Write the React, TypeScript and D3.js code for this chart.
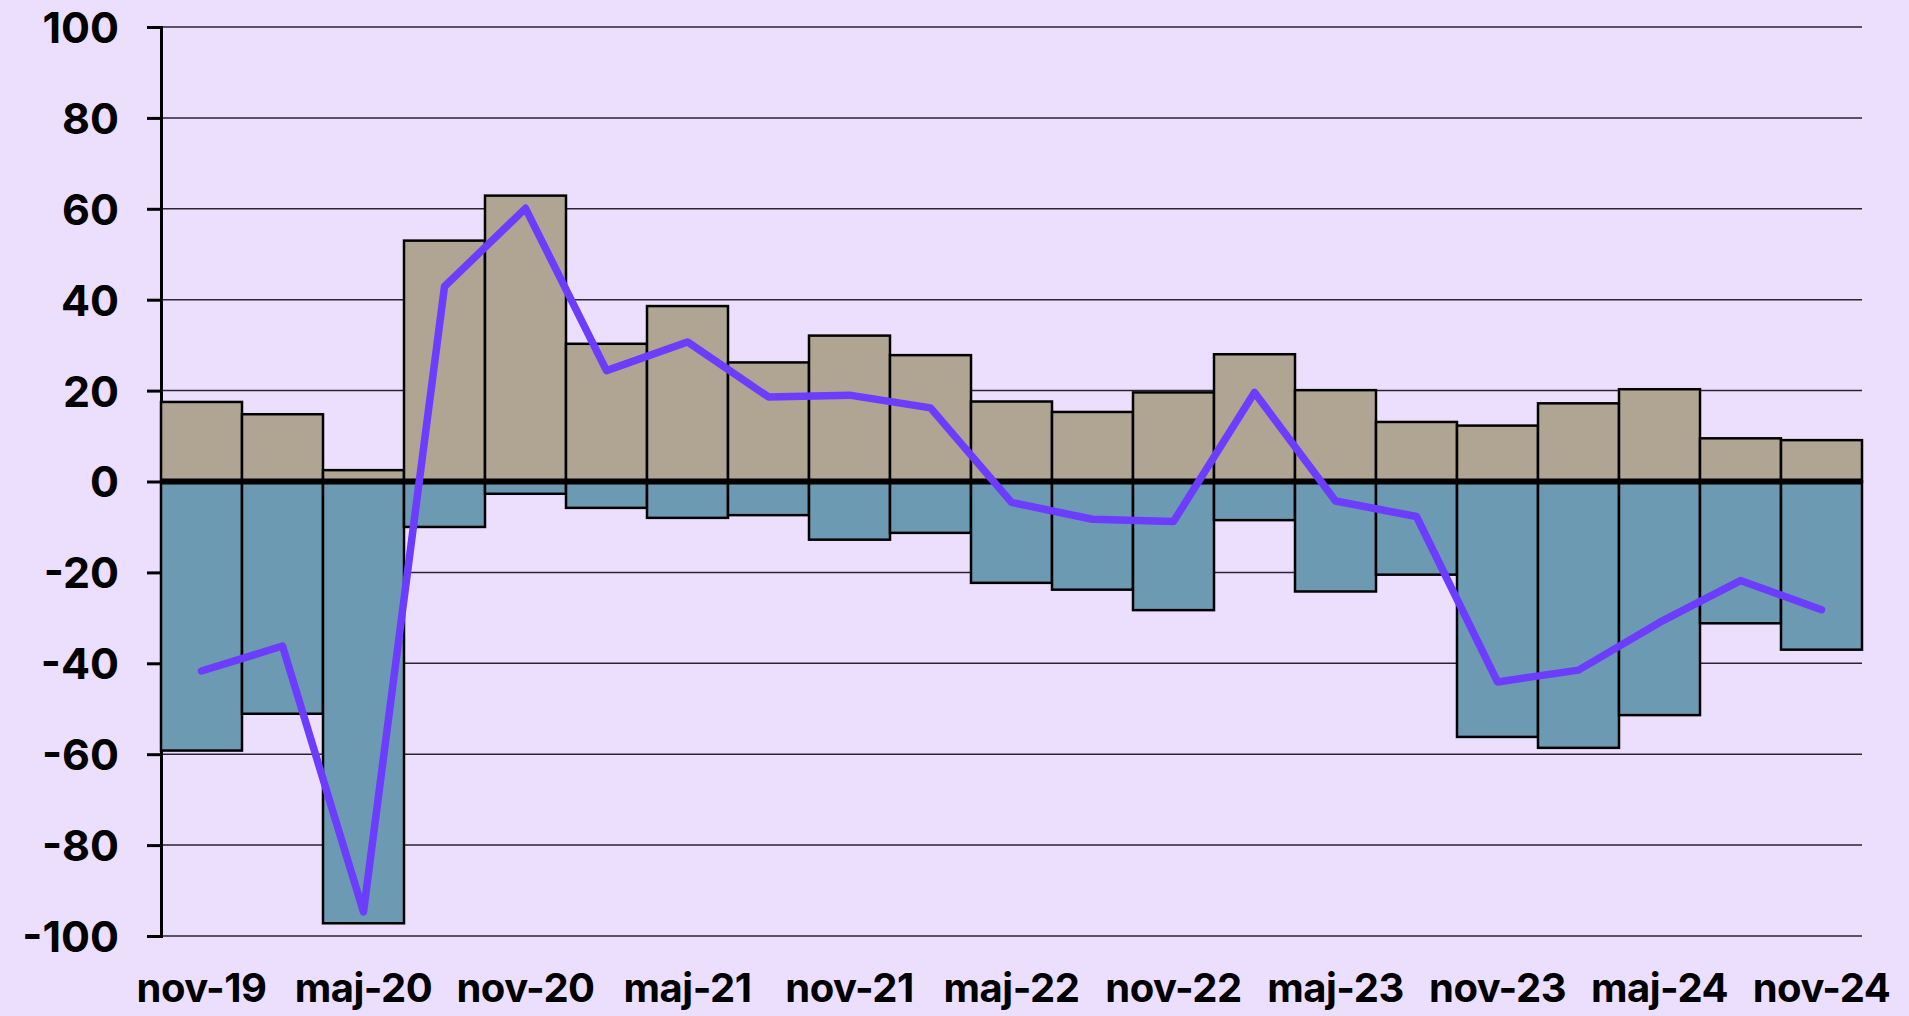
import React, { useRef, useEffect } from "react";
import * as d3 from "d3";

// quarters, nov-19 .. nov-24
const periods = [
  "nov-19", "feb-20", "maj-20", "aug-20", "nov-20", "feb-21", "maj-21",
  "aug-21", "nov-21", "feb-22", "maj-22", "aug-22", "nov-22", "feb-23",
  "maj-23", "aug-23", "nov-23", "feb-24", "maj-24", "aug-24", "nov-24",
];

// positive share (bars above zero)
const upValues = [
  17.5, 14.8, 2.5, 53.0, 62.9, 30.3, 38.6, 26.2, 32.1, 27.8, 17.6,
  15.3, 19.6, 28.0, 20.1, 13.1, 12.3, 17.2, 20.3, 9.5, 9.1,
];

// negative share (bars below zero)
const downValues = [
  -59.2, -51.1, -97.2, -10.0, -2.7, -5.8, -8.0, -7.4, -12.8, -11.3, -22.3,
  -23.8, -28.3, -8.5, -24.2, -20.5, -56.2, -58.6, -51.4, -31.2, -37.0,
];

// net balance (line)
const netValues = [
  -41.7, -36.2, -94.7, 42.9, 60.1, 24.4, 30.7, 18.6, 19.0, 16.2, -4.6,
  -8.3, -8.8, 19.6, -4.3, -7.7, -44.1, -41.5, -31.0, -21.8, -28.2,
];

const yTicks = [100, 80, 60, 40, 20, 0, -20, -40, -60, -80, -100];
const xLabels = [
  "nov-19", "maj-20", "nov-20", "maj-21", "nov-21", "maj-22",
  "nov-22", "maj-23", "nov-23", "maj-24", "nov-24",
];

function App() {
  const ref = useRef<HTMLDivElement>(null);

  useEffect(() => {
    const W = 1909, H = 1016;
    const margin = { top: 27, right: 47, bottom: 80, left: 161 };
    const width = W - margin.left - margin.right;
    const height = H - margin.top - margin.bottom;
    const font = "Inter, 'DejaVu Sans', sans-serif";

    d3.select(ref.current).selectAll("*").remove();

    const root = d3
      .select(ref.current)
      .append("svg")
      .attr("width", W)
      .attr("height", H)
      .style("display", "block");

    root.append("rect").attr("width", W).attr("height", H).attr("fill", "#ecdffe");

    const svg = root
      .append("g")
      .attr("transform", "translate(" + margin.left + "," + margin.top + ")");

    const x = d3.scaleBand().domain(periods).range([0, width]).padding(0);
    const y = d3.scaleLinear().domain([-100, 100]).range([height, 0]);

    // grid lines
    svg
      .append("g")
      .selectAll("line")
      .data(yTicks)
      .join("line")
      .attr("x1", 0)
      .attr("x2", width)
      .attr("y1", (d) => y(d))
      .attr("y2", (d) => y(d))
      .attr("stroke", "#2a2530")
      .attr("stroke-width", 1.5);

    // y axis (plain hyphen for negatives, as in the source)
    const yAxis = svg
      .append("g")
      .call(
        d3
          .axisLeft(y)
          .tickValues(yTicks)
          .tickSize(14)
          .tickPadding(28)
          .tickFormat((d) => String(d))
      );
    yAxis.select(".domain").attr("stroke", "#000").attr("stroke-width", 3);
    yAxis.selectAll(".tick line").attr("stroke", "#000").attr("stroke-width", 3);
    yAxis
      .selectAll(".tick text")
      .attr("fill", "#000")
      .style("font-family", font)
      .style("font-size", "43px")
      .style("font-weight", "700")
      .attr("dy", "0.36em");

    // bars above zero
    svg
      .append("g")
      .selectAll("rect")
      .data(upValues)
      .join("rect")
      .attr("x", (d, i) => x(periods[i])!)
      .attr("width", x.bandwidth())
      .attr("y", (d) => y(d))
      .attr("height", (d) => y(0) - y(d))
      .attr("fill", "#b0a592")
      .attr("stroke", "#000")
      .attr("stroke-width", 2.5);

    // bars below zero
    svg
      .append("g")
      .selectAll("rect")
      .data(downValues)
      .join("rect")
      .attr("x", (d, i) => x(periods[i])!)
      .attr("width", x.bandwidth())
      .attr("y", y(0))
      .attr("height", (d) => y(d) - y(0))
      .attr("fill", "#6d9ab3")
      .attr("stroke", "#000")
      .attr("stroke-width", 2.5);

    // zero line
    svg
      .append("line")
      .attr("x1", 0)
      .attr("x2", width)
      .attr("y1", y(0))
      .attr("y2", y(0))
      .attr("stroke", "#000")
      .attr("stroke-width", 6);

    // net line
    svg
      .append("path")
      .datum(netValues)
      .attr("fill", "none")
      .attr("stroke", "#6c3cff")
      .attr("stroke-width", 7.5)
      .attr("stroke-linejoin", "round")
      .attr("stroke-linecap", "round")
      .attr(
        "d",
        d3
          .line<number>()
          .x((d, i) => x(periods[i])! + x.bandwidth() / 2)
          .y((d) => y(d))
      );

    // x labels
    svg
      .append("g")
      .selectAll("text")
      .data(xLabels)
      .join("text")
      .attr("x", (d) => x(d)! + x.bandwidth() / 2)
      .attr("y", height + 66)
      .attr("text-anchor", "middle")
      .attr("fill", "#000")
      .style("font-family", font)
      .style("font-size", "40px")
      .style("font-weight", "700")
      .style("letter-spacing", "-0.5px")
      .text((d) => d);
  }, []);

  return <div ref={ref} style={{ position: "absolute", left: 0, top: 0 }}></div>;
}

export default App;
